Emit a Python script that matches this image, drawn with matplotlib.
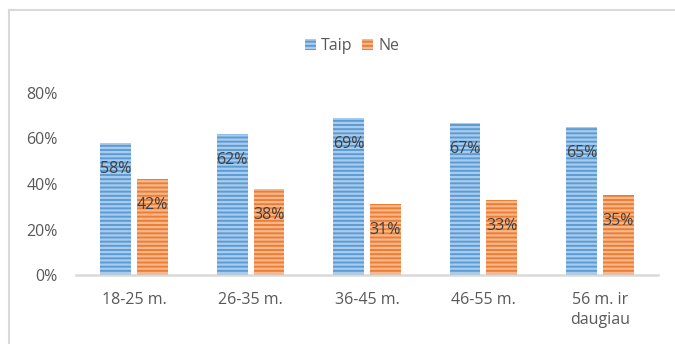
import matplotlib
matplotlib.use("Agg")
import matplotlib.pyplot as plt
from matplotlib.patches import Patch
import numpy as np

categories = ["18-25 m.", "26-35 m.", "36-45 m.", "46-55 m.", "56 m. ir\ndaugiau"]
taip = [0.58, 0.62, 0.69, 0.67, 0.65]
ne = [0.42, 0.38, 0.31, 0.33, 0.35]
series_names = ["Taip", "Ne"]
y_ticks = [0.0, 0.2, 0.4, 0.6, 0.8]

plt.rcParams["font.family"] = ["Open Sans", "DejaVu Sans"]
plt.rcParams["hatch.linewidth"] = 1.6

blue, blue_stripe = "#5B9BD5", "#A9CCEC"
orange, orange_stripe = "#ED7D31", "#F6B88E"
text_col = "#595959"
fs = 11.5

fig = plt.figure(figsize=(6.75, 3.44), dpi=100)
ax = fig.add_axes([76 / 675, 1 - 275 / 344, 582 / 675, 182 / 344])

x = np.arange(len(categories))
w = 0.266
off = 0.158
b1 = ax.bar(x - off, taip, w, color=blue, edgecolor=blue_stripe, linewidth=0, hatch="----")
b2 = ax.bar(x + off, ne, w, color=orange, edgecolor=orange_stripe, linewidth=0, hatch="----")

for bars, vals in ((b1, taip), (b2, ne)):
    for r, v in zip(bars, vals):
        ax.annotate(f"{round(v * 100)}%", (r.get_x() + r.get_width() / 2, v),
                    xytext=(0, -26), textcoords="offset pixels",
                    ha="center", va="center", fontsize=fs, color="#404040")

ax.set_xlim(-0.5, len(categories) - 0.5)
ax.set_ylim(0, 0.8)
ax.set_yticks(y_ticks)
ax.set_yticklabels([f"{int(t * 100)}%" for t in y_ticks])
ax.set_xticks(x)
ax.set_xticklabels(categories, linespacing=1.4)
ax.tick_params(axis="both", length=0, colors=text_col, labelsize=fs)
ax.tick_params(axis="y", pad=13)
ax.tick_params(axis="x", pad=12)
for s in ("top", "right", "left"):
    ax.spines[s].set_visible(False)
ax.spines["bottom"].set_color("#D9D9D9")
ax.spines["bottom"].set_linewidth(1.8)

# chart frame (left and top edges)
fig.add_artist(plt.Line2D([8.5 / 675, 8.5 / 675], [0, 1 - 10 / 344], color="#D9D9D9", lw=1.5,
                          transform=fig.transFigure))
fig.add_artist(plt.Line2D([8.5 / 675, 1], [1 - 10 / 344, 1 - 10 / 344], color="#D9D9D9", lw=1.5,
                          transform=fig.transFigure))

handles = [Patch(facecolor=blue, edgecolor=blue_stripe, linewidth=0, hatch="----"),
           Patch(facecolor=orange, edgecolor=orange_stripe, linewidth=0, hatch="----")]
leg = fig.legend(handles, series_names, loc="center", bbox_to_anchor=(352 / 675, 1 - 46 / 344),
                 ncol=2, frameon=False, fontsize=fs, handlelength=0.7, handleheight=0.7,
                 handletextpad=0.3, columnspacing=0.6)
for t in leg.get_texts():
    t.set_color(text_col)

fig.savefig("out.png", dpi=100)
